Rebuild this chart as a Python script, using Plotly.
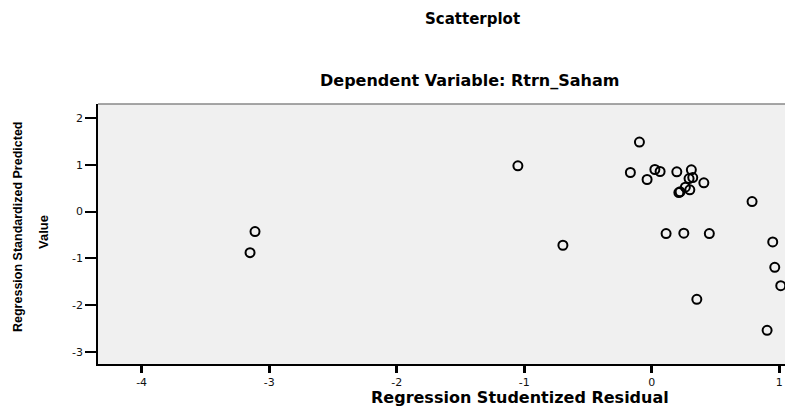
import plotly.graph_objects as go

# Data (studentized residual vs standardized predicted value)
studentized_residual = [-0.097, -0.168, 0.024, 0.065, -0.037, 0.196, 0.310, 0.292, 0.321,
                        0.408, 0.263, 0.298, 0.212, 0.222, 0.786, 0.112, 0.251, 0.451,
                        0.948, 0.964, 1.011, 0.353, 0.904, -3.111, -3.150, -0.697, -1.050]
standardized_predicted = [1.486, 0.835, 0.899, 0.856, 0.685, 0.850, 0.892, 0.706, 0.727,
                          0.614, 0.522, 0.464, 0.406, 0.421, 0.213, -0.472, -0.464, -0.472,
                          -0.650, -1.192, -1.586, -1.877, -2.541, -0.429, -0.879, -0.721, 0.978]

x_tick_values = [-4, -3, -2, -1, 0, 1]
x_tick_labels = ["-4", "-3", "-2", "-1", "0", "1"]
y_tick_values = [-3, -2, -1, 0, 1, 2]
y_tick_labels = ["-3", "-2", "-1", "0", "1", "2"]

title_main = "Scatterplot"
title_sub = "Dependent Variable: Rtrn_Saham"
x_title = "Regression Studentized Residual"
y_title_1 = "Regression Standardized Predicted"
y_title_2 = "Value"

# the page body has an 8px margin, so the figure starts at (8, 8) in the window
OFF = 8
W, H = 793 - OFF, 408 - OFF
L, R, T, B = 98 - OFF, 0, 104 - OFF, 44
PW, PH = W - L - R, H - T - B


def px(xp):
    return (xp - OFF - L) / PW


def py(yp):
    return (H - B - (yp - OFF)) / PH


fig = go.Figure()
fig.add_trace(go.Scatter(
    x=studentized_residual, y=standardized_predicted, mode="markers",
    marker=dict(symbol="circle-open", size=9, color="black", line=dict(width=2)),
    showlegend=False, hoverinfo="x+y",
))

tick_font = dict(family="DejaVu Sans, Liberation Sans, Arial", size=11, color="#111")
bold = "DejaVu Sans, Liberation Sans, Arial"

fig.update_layout(
    width=W, height=H,
    margin=dict(l=L, r=R, t=T, b=B, pad=0),
    paper_bgcolor="white", plot_bgcolor="#f0f0f0",
    xaxis=dict(range=[-4.342, 1.107], tickvals=x_tick_values, ticktext=x_tick_labels,
               ticks="outside", ticklen=7, tickwidth=2.5, tickcolor="black",
               showline=True, linecolor="black", linewidth=1.5, showgrid=False,
               zeroline=False, tickfont=tick_font, fixedrange=True),
    yaxis=dict(range=[-3.261, 2.30], tickvals=y_tick_values, ticktext=y_tick_labels,
               ticks="outside", ticklen=11, tickwidth=2, tickcolor="black",
               showline=True, linecolor="black", linewidth=1.5, showgrid=False,
               zeroline=False, tickfont=tick_font, fixedrange=True),
    shapes=[dict(type="line", xref="paper", yref="paper", x0=0, x1=1, y0=1, y1=1,
                 line=dict(color="#888888", width=1.5))],
)

annots = [
    dict(text=title_main, x=px(472), y=py(19), size=15, angle=0),
    dict(text=title_sub, x=px(469), y=py(80), size=16, angle=0),
    dict(text=x_title, x=px(520), y=py(397), size=16, angle=0),
]
for a in annots:
    fig.add_annotation(text="<b>%s</b>" % a["text"], x=a["x"], y=a["y"], xref="paper", yref="paper",
                       xanchor="center", yanchor="middle", showarrow=False, textangle=a["angle"],
                       font=dict(family=bold, size=a["size"], color="black"))

fig.add_annotation(text="<b>%s</b>" % y_title_1, x=px(18), y=py(227), xref="paper", yref="paper",
                   xanchor="center", yanchor="middle", showarrow=False, textangle=-90,
                   font=dict(family="Liberation Sans, Arial", size=12.5, color="black"))
fig.add_annotation(text="<b>%s</b>" % y_title_2, x=px(43), y=py(232), xref="paper", yref="paper",
                   xanchor="center", yanchor="middle", showarrow=False, textangle=-90,
                   font=dict(family="Liberation Sans, Arial", size=13, color="black"))

fig.write_html("out.html")
